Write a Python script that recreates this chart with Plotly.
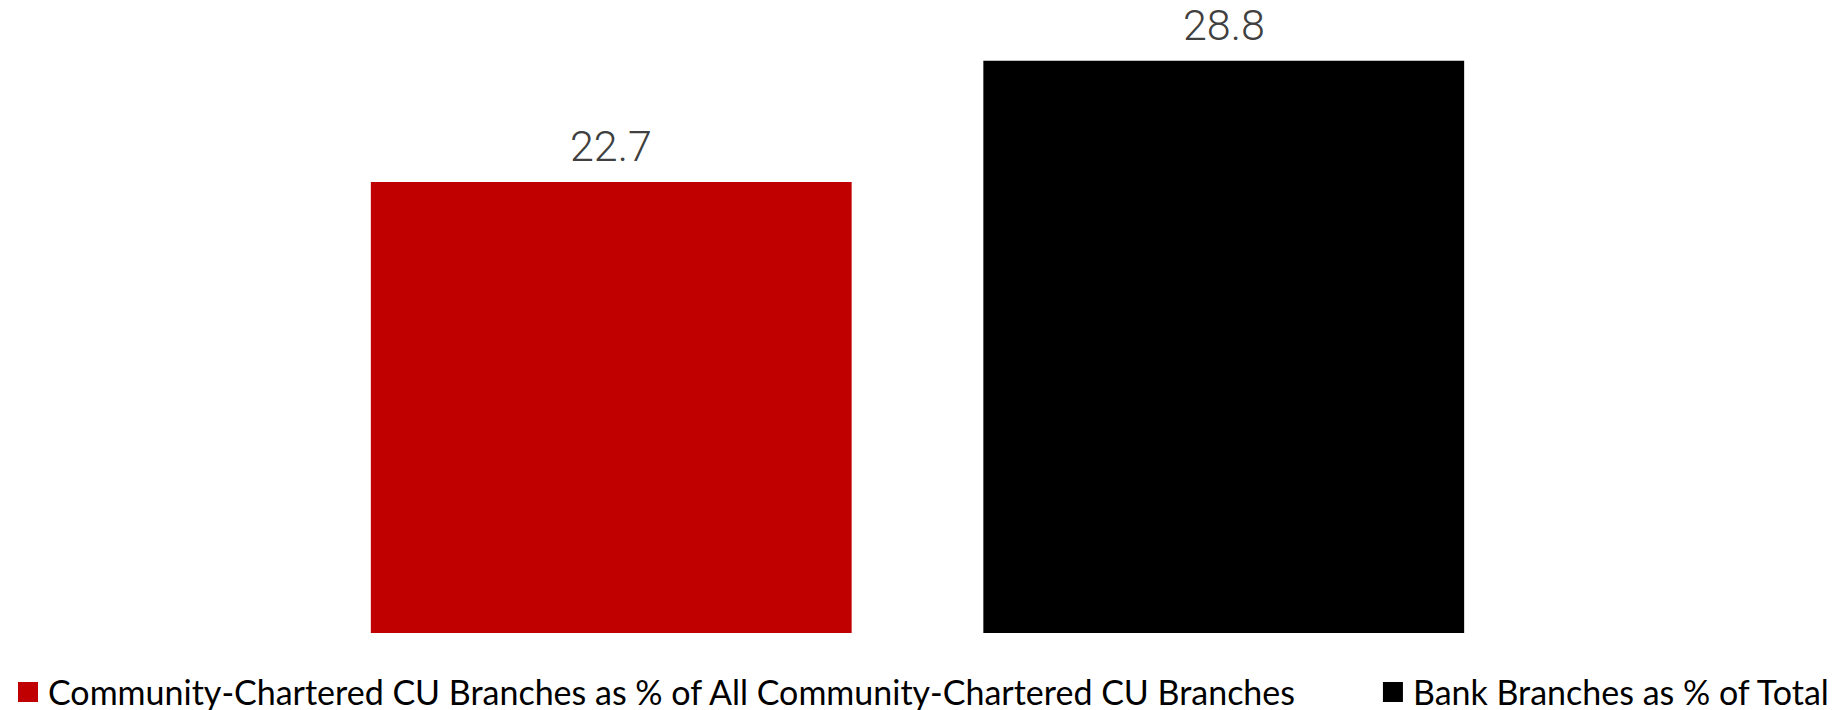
import plotly.graph_objects as go

categories = ["Community-Chartered CU Branches as % of All Community-Chartered CU Branches",
              "Bank Branches as % of Total"]
values = [22.7, 28.8]
colors = ["#C00000", "#000000"]
labels = ["22.7", "28.8"]
legend_names = ["legend", "legend2"]

fig = go.Figure()
for cat, val, col, lg in zip(categories, values, colors, legend_names):
    fig.add_trace(go.Bar(x=[cat], y=[val], name=cat, marker=dict(color=col, line=dict(width=0)),
                         hoverinfo="skip", showlegend=False, legendgroup=cat))
    # legend entry with a larger square swatch
    fig.add_trace(go.Scatter(x=[cat], y=[None], name=cat, mode="markers", legend=lg,
                             legendgroup=cat, hoverinfo="skip",
                             marker=dict(symbol="square", size=16, color=col,
                                         line=dict(color=col, width=4))))

for cat, val, lab in zip(categories, values, labels):
    fig.add_annotation(x=cat, y=val, text=lab, showarrow=False, yanchor="bottom", yshift=17,
                       height=34, valign="middle",
                       font=dict(family="Roboto", size=43, color="#404040", weight=300))

legend_font = dict(family="Lato", size=34, color="#000000")
fig.update_layout(
    width=1847, height=710,
    margin=dict(l=297, r=325, t=29, b=85, autoexpand=False),
    barmode="overlay", bargap=0.215,
    paper_bgcolor="white", plot_bgcolor="white",
    xaxis=dict(visible=False, categoryorder="array", categoryarray=categories),
    yaxis=dict(visible=False, range=[0, 30]),
    showlegend=True,
    legend=dict(orientation="h", xref="container", yref="container", x=-0.0027, y=0.036,
                xanchor="left", yanchor="middle", font=legend_font, itemclick=False,
                bgcolor="rgba(0,0,0,0)"),
    legend2=dict(orientation="h", xref="container", yref="container", x=0.739, y=0.036,
                 xanchor="left", yanchor="middle", font=legend_font, itemclick=False,
                 bgcolor="rgba(0,0,0,0)"),
)

fig.write_html("out.html")
